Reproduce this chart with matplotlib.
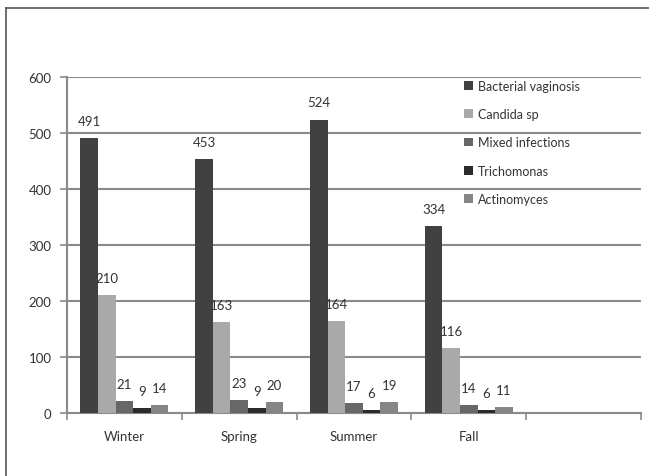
import matplotlib
matplotlib.use('Agg')
import matplotlib.pyplot as plt
from matplotlib.lines import Line2D
import numpy as np

# seasonal counts per infection type
seasons = ['Winter', 'Spring', 'Summer', 'Fall', '']
bacterial = [491, 453, 524, 334]
candida = [210, 163, 164, 116]
mixed = [21, 23, 17, 14]
trichomonas = [9, 9, 6, 6]
actinomyces = [14, 20, 19, 11]

series = [('Bacterial vaginosis', bacterial, '#414141'),
          ('Candida sp', candida, '#a9a9a9'),
          ('Mixed infections', mixed, '#676767'),
          ('Trichomonas', trichomonas, '#2b2b2b'),
          ('Actinomyces', actinomyces, '#858585')]

plt.rcParams['font.family'] = ['Lato', 'DejaVu Sans']
txt = '#333333'
grid = '#8a8a8a'

fig = plt.figure(figsize=(6.49, 4.77), dpi=100)
ax = fig.add_axes([0.1032, 0.1321, 0.8845, 0.7044])

# outer frame (only left/top edges fall inside the image)
fig.add_artist(Line2D([6/649, 6/649], [0, 1 - 9/477], transform=fig.transFigure, color='#555555', lw=1.2))
fig.add_artist(Line2D([6/649, 1], [1 - 9/477, 1 - 9/477], transform=fig.transFigure, color='#555555', lw=1.2))

w = 0.153
x = np.arange(len(bacterial))
for i, (name, vals, col) in enumerate(series):
    xs = x + (i - 2) * w
    ax.bar(xs, vals, width=w, color=col, label=name, zorder=3)
    for xi, v in zip(xs, vals):
        ax.annotate(str(v), (xi, v), xytext=(0, 8), textcoords='offset points',
                    ha='center', va='bottom', fontsize=9.5, color=txt)

ax.set_xlim(-0.5, len(seasons) - 0.5)
ax.set_ylim(0, 600)
ax.set_yticks(range(0, 601, 100))
ax.yaxis.grid(True, color=grid, lw=1.5, zorder=0)
ax.set_xticks(range(len(seasons)))
ax.set_xticklabels(seasons)
ax.set_xticks(np.arange(-0.5, len(seasons), 1), minor=True)
ax.tick_params(axis='x', which='major', length=0, pad=12, labelsize=9.5, labelcolor=txt)
ax.tick_params(axis='x', which='minor', length=5, color=grid, width=1.2)
ax.tick_params(axis='y', length=5, color=grid, width=1.2, labelsize=9.5, labelcolor=txt, pad=6)

for s in ['top', 'right']:
    ax.spines[s].set_visible(False)
for s in ['left', 'bottom']:
    ax.spines[s].set_color(grid)
    ax.spines[s].set_linewidth(1.5)

leg = ax.legend(loc='upper left', bbox_to_anchor=(0.672, 1.025), frameon=False,
                fontsize=9, labelspacing=1.3, handlelength=0.7, handleheight=0.7,
                handletextpad=0.4, labelcolor=txt)

fig.savefig('out.png', dpi=100)
